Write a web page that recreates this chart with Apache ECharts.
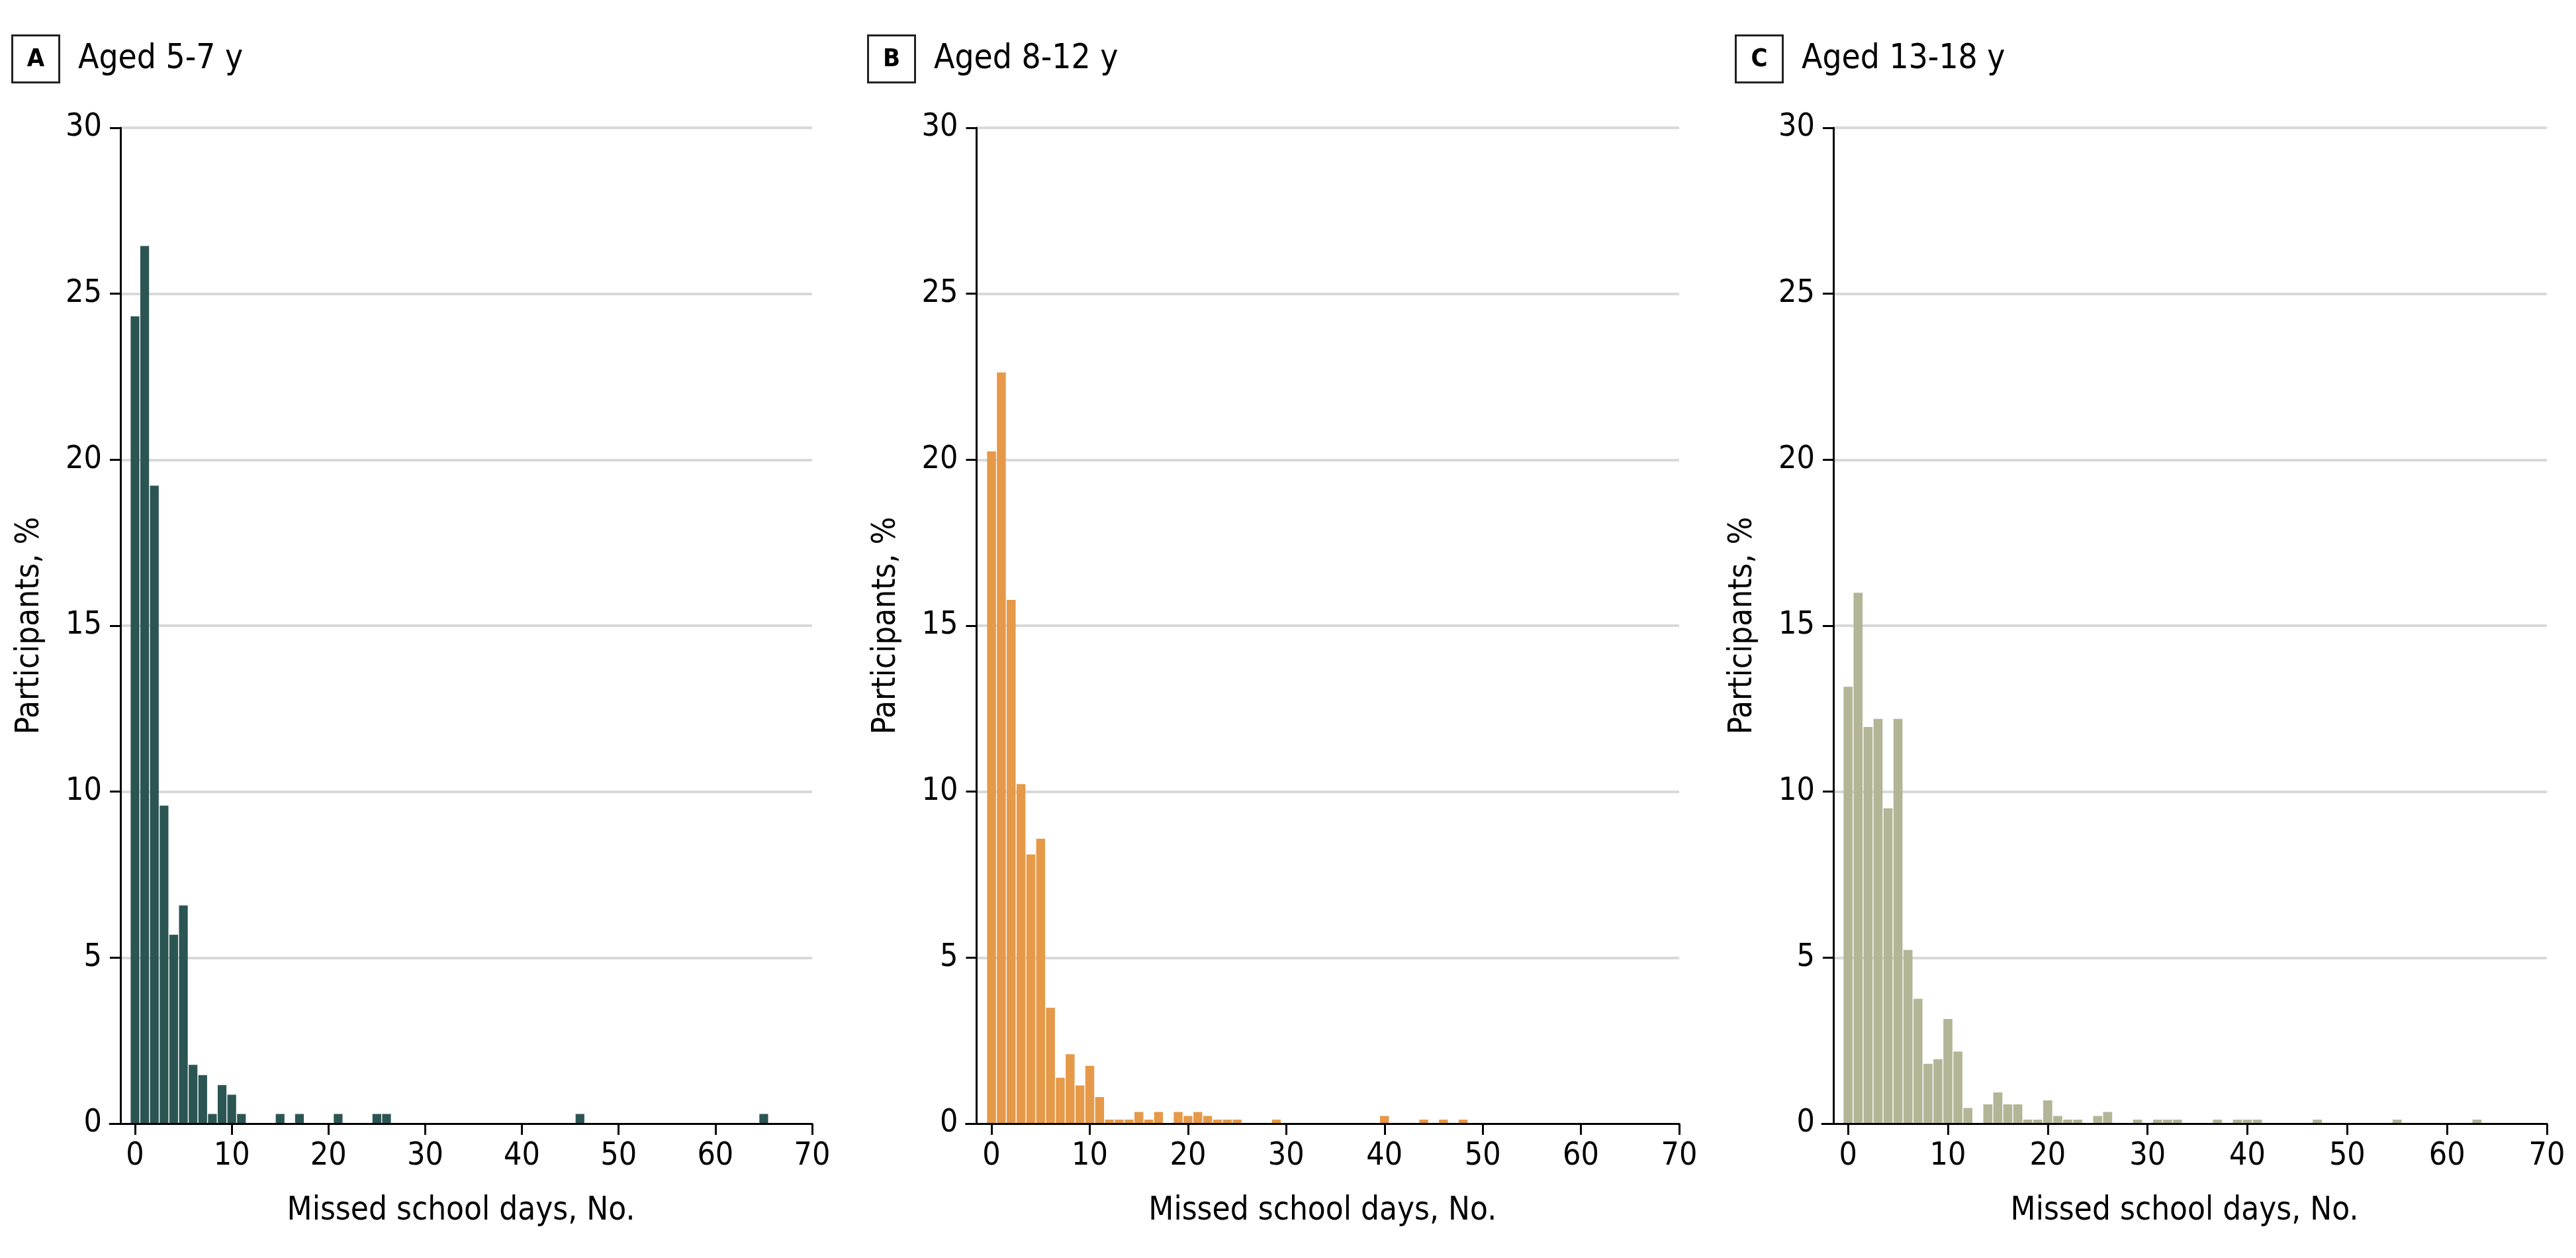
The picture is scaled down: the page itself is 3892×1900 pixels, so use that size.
<!DOCTYPE html>
<html>
<head>
<meta charset="utf-8">
<script src="https://cdn.jsdelivr.net/npm/echarts@6/dist/echarts.min.js"></script>
<style>
html,body{margin:0;padding:0;background:#ffffff;}
#chart{width:3892px;height:1900px;}
</style>
</head>
<body>
<div id="chart"></div>
<script>
// ---------------- data ----------------
const panelLetters = ['A', 'B', 'C'];
const panelTitles = ['Aged 5-7 y', 'Aged 8-12 y', 'Aged 13-18 y'];
const xAxisTitle = 'Missed school days, No.';
const yAxisTitle = 'Participants, %';
const xTickValues = [0, 10, 20, 30, 40, 50, 60, 70];

// Panel A: aged 5-7 y
const daysA = [0, 1, 2, 3, 4, 5, 6, 7, 8, 9, 10, 11, 15, 17, 21, 25, 26, 46, 65];
const pctA  = [24.32, 26.44, 19.22, 9.58, 5.69, 6.57, 1.77, 1.46, 0.29, 1.16, 0.87, 0.29, 0.29, 0.29, 0.29, 0.29, 0.29, 0.29, 0.29];

// Panel B: aged 8-12 y
const daysB = [0, 1, 2, 3, 4, 5, 6, 7, 8, 9, 10, 11, 12, 13, 14, 15, 16, 17, 19, 20, 21, 22, 23, 24, 25, 29, 40, 44, 46, 48];
const pctB  = [20.25, 22.63, 15.78, 10.23, 8.11, 8.58, 3.49, 1.38, 2.09, 1.15, 1.74, 0.80, 0.12, 0.12, 0.12, 0.35, 0.12, 0.35, 0.35, 0.23, 0.35, 0.23, 0.12, 0.12, 0.12, 0.12, 0.23, 0.12, 0.12, 0.12];

// Panel C: aged 13-18 y
const daysC = [0, 1, 2, 3, 4, 5, 6, 7, 8, 9, 10, 11, 12, 14, 15, 16, 17, 18, 19, 20, 21, 22, 23, 25, 26, 29, 31, 32, 33, 37, 39, 40, 41, 47, 55, 63];
const pctC  = [13.16, 15.99, 11.95, 12.19, 9.50, 12.19, 5.23, 3.76, 1.80, 1.94, 3.15, 2.17, 0.47, 0.58, 0.94, 0.58, 0.58, 0.12, 0.12, 0.70, 0.23, 0.12, 0.12, 0.23, 0.35, 0.12, 0.12, 0.12, 0.12, 0.12, 0.12, 0.12, 0.12, 0.12, 0.12, 0.12];

const panelDays = [daysA, daysB, daysC];
const panelPct = [pctA, pctB, pctC];

// ---------------- styling / layout ----------------
const barColors = ['#2b5553', '#e69948', '#b4b597'];
const FONT = "'DejaVu Sans Condensed', 'DejaVu Sans', sans-serif";
const X_MIN = -2.6, X_MAX = 70;
const GRID_TOP = 193, GRID_BOTTOM = 203;
const layout = [
  { left: 166,    width: 1061,   axisInset: 16,   titleLeft: 17 },
  { left: 1459.5, width: 1077.5, axisInset: 16,   titleLeft: 1310 },
  { left: 2753,   width: 1095,   axisInset: 17,   titleLeft: 2621 }
];

const grids = [], xAxes = [], yAxes = [], series = [], graphics = [];

layout.forEach((L, i) => {
  const perDay = L.width / (X_MAX - X_MIN);
  const yAxisXValue = X_MIN + L.axisInset / perDay;

  grids.push({ left: L.left, width: L.width, top: GRID_TOP, bottom: GRID_BOTTOM, containLabel: false });

  xAxes.push({
    type: 'value', gridIndex: i, min: X_MIN, max: X_MAX, z: 3,
    axisLine: { show: true, onZero: false, lineStyle: { color: '#000', width: 3 } },
    axisTick: { show: true, customValues: xTickValues, length: 17, lineStyle: { color: '#000', width: 3 } },
    axisLabel: { show: true, customValues: xTickValues, fontSize: 48, margin: 26, color: '#000', fontFamily: FONT },
    splitLine: { show: false },
    name: xAxisTitle, nameLocation: 'middle', nameGap: 108,
    nameTextStyle: { fontSize: 49, color: '#000', fontFamily: FONT }
  });

  yAxes.push({
    type: 'value', gridIndex: i, min: 0, max: 30, interval: 5, position: 'left', offset: -L.axisInset, z: 3,
    axisLine: { show: true, onZero: false, lineStyle: { color: '#000', width: 3 } },
    axisTick: { show: true, length: 16, lineStyle: { color: '#000', width: 3 } },
    axisLabel: { show: true, fontSize: 48, margin: 28, color: '#000', fontFamily: FONT },
    splitLine: { show: false },
    name: yAxisTitle, nameLocation: 'middle', nameGap: 112,
    nameTextStyle: { fontSize: 49, color: '#000', fontFamily: FONT }
  });

  const gridLineData = [5, 10, 15, 20, 25, 30].map(v => [
    { coord: [yAxisXValue, v] }, { coord: [X_MAX, v] }
  ]);

  series.push({
    type: 'bar', xAxisIndex: i, yAxisIndex: i, z: 2,
    data: panelDays[i].map((d, k) => [d, panelPct[i][k]]),
    barWidth: perDay - 1.4,
    itemStyle: { color: barColors[i] },
    silent: true,
    animation: false,
    markLine: {
      z: 1, silent: true, symbol: ['none', 'none'], animation: false,
      label: { show: false },
      lineStyle: { color: '#d9d9d9', width: 4, type: 'solid' },
      data: gridLineData
    }
  });

  // panel heading: boxed letter + title
  graphics.push({
    type: 'rect', x: L.titleLeft + 1.5, y: 53.5,
    shape: { x: 0, y: 0, width: 71, height: 71 },
    style: { fill: 'none', stroke: '#222', lineWidth: 3 }, silent: true
  });
  graphics.push({
    type: 'text', x: L.titleLeft + 37, y: 90,
    style: { text: panelLetters[i], fill: '#000', font: 'bold 38px ' + FONT, textAlign: 'center', textVerticalAlign: 'middle', align: 'center', verticalAlign: 'middle' },
    silent: true
  });
  graphics.push({
    type: 'text', x: L.titleLeft + 101, y: 90,
    style: { text: panelTitles[i], fill: '#000', font: '51px ' + FONT, textAlign: 'left', textVerticalAlign: 'middle', align: 'left', verticalAlign: 'middle' },
    silent: true
  });
});

const chart = echarts.init(document.getElementById('chart'), null, { renderer: 'canvas' });
chart.setOption({
  backgroundColor: '#ffffff',
  animation: false,
  textStyle: { fontFamily: FONT },
  grid: grids,
  xAxis: xAxes,
  yAxis: yAxes,
  series: series,
  graphic: { elements: graphics }
});
</script>
</body>
</html>
